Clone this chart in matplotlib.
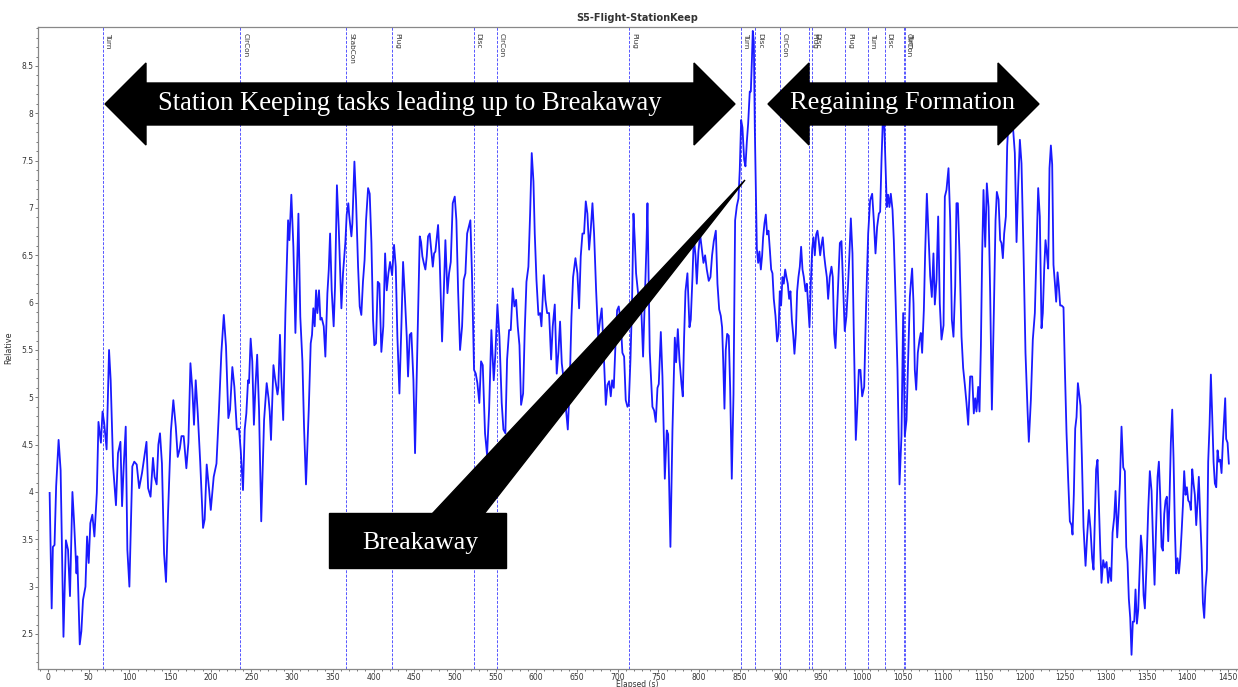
import matplotlib
matplotlib.use("Agg")
import matplotlib.pyplot as plt
from matplotlib.patches import Polygon, Rectangle
from matplotlib.ticker import MultipleLocator, FuncFormatter


# =========================================================
# 1. DATA
# =========================================================

elapsed_s = [
    2, 4.5, 6, 8, 10, 13, 15.5, 19, 22, 24.6, 27, 30, 32, 35, 36, 39, 41, 43, 46, 48,
    50, 52, 54.5, 57, 60, 62, 65, 67, 69, 72, 75, 77, 80, 83.5, 86, 89, 91, 93, 95.5, 97.5,
    100, 103.6, 106, 109, 112, 115.5, 119, 121, 123, 126, 129, 131, 133.5, 135.6, 137.6, 140, 142.6, 145, 147.5,
    151, 154, 157, 159.4, 162, 164, 166.7, 170, 172.5, 175, 177.4, 179.4, 181.5, 184, 187, 190.5, 192.5, 195, 198,
    200, 203.6, 207, 210, 213, 216, 218.7, 221.6, 223.7, 226.5, 229, 232, 234.7,
    236.8, 239.6, 241.7, 243.7, 245.8, 247, 249, 251, 253, 255, 257, 259.3, 262, 265.5, 268.7, 271, 272.4, 274,
    277, 279, 282, 283, 285, 286.8, 289, 291.7, 295, 296.6, 299, 301.5, 304, 307.7, 310, 312.6, 314.6, 317,
    320.4, 322.8, 324.4, 326, 327.7, 329.4, 331, 333, 334.7, 336.3, 338.8, 340.8, 343.3, 345, 346.6, 348.6,
    351, 352.7, 355, 357.2, 360.5, 362.5, 365.4, 367, 369, 370, 372.8, 374, 376.5, 378.5, 381, 383, 385, 387,
    389, 390.8, 393.3, 395.3, 397.4, 399.4, 401, 403, 405.2, 407.2, 409.6, 412, 414.2, 416.2, 418.3, 420.3,
    422.8, 425.2, 427.3, 429.3, 431.8, 434.2, 436.3, 438.3, 440.8, 442.4, 444.5, 446.5, 449, 451, 454, 456.8,
    458.4, 460, 461.7, 463.7, 465.4, 467, 469, 471, 472.8, 474.4, 476,
    479.3, 481.3, 484.2, 486.3, 488.3, 490.8, 492.8, 494.9, 497.3, 499.8, 501.8, 503.9, 506.3, 508.8, 510.8,
    512.9, 515, 517, 519, 521, 523.5, 525.6, 527.6, 530, 532.1, 534.2, 537, 539.5, 542, 544.8, 547.7, 549.8,
    552.2, 554.7, 557.5, 559.6, 562, 564.1, 566.6, 568.6, 571, 573.1, 575.2, 577.2, 579.3, 581.3, 583.8, 585.8,
    587.9, 590.3, 592.4, 594.4, 596.5, 598.1, 600.2, 602.6, 604.7, 606.3, 609.2, 611.2, 613.3, 615.7, 618.2,
    620.2, 622.7, 625.1, 627.2, 629.2, 631.3, 633.7, 636.2, 638.7, 641.1, 643.2, 645.2, 648.1, 650.5, 652.6,
    654.6, 656.7, 658.7, 660.8, 662.8, 664.9, 666.9, 669, 671, 673.5, 676, 678.4, 680.4, 682.5, 685.4, 687.4,
    689.5, 691.5, 693.2, 695.2, 697.2, 699.3, 701.3, 703.8, 705.8, 707.9, 709.9, 712, 713.6, 715.7, 717.7,
    719.4, 721, 722.6, 724.7, 726.7, 729.2, 731.2, 733.3, 735.3, 736.6,
    739.4, 742.7, 744.8, 746.8, 748.9, 750.5, 753, 755, 757.9, 760.3, 762, 764.8, 767.3, 770.2, 771.8, 773.9,
    775.9, 778.4, 780, 781.6, 783.3, 785.7, 788.2, 789.8, 791.9, 793.5, 795.6, 797.2, 799.2, 801.3, 803.3,
    805.4, 807.4, 809.5, 811.9, 814, 816, 818.1, 820.6, 822.6, 824.7, 826.7, 828.3, 829.6, 831.2, 832.8,
    834.5, 836.5, 838.2, 840.2, 842.3, 844.3, 846.4, 848.4, 850, 851.7, 853.3, 855.4, 857, 858.7, 860.3,
    862.3, 863.6, 864.8, 866, 867.3, 868.5, 869.7, 871, 872.6, 874.2, 875.9, 877.5, 878.7, 880.4, 882,
    883.6, 885.3, 886.9, 888.6, 890.2, 891.8, 893.9, 895.9, 897.6, 899.2, 900.8, 902.5, 904.1, 905.8, 907.4,
    909, 910.7, 912.3, 914, 915.6, 917.2, 918.9, 920.5, 922.1, 923.8, 925.4, 927.1, 928.7, 930.8, 932.4,
    934, 935.7, 937.3, 939, 940.6, 942.2, 943.9, 945.5, 947.1, 948.8, 950.4, 952, 953.7, 955.3, 957, 958.6,
    960.6, 962.7, 964.3, 966, 967.6, 969.3,
    973, 975, 977, 979, 981, 983, 984.8, 986.5, 988.5, 990.2, 992.6, 994.7, 996.3, 998.3, 1000.4, 1002.9,
    1005.3, 1007.8, 1010.2, 1012.7, 1014.7, 1016.8, 1018.8, 1020.9, 1022.5, 1024.2, 1025.8, 1027.4, 1029.1,
    1030.7, 1032.3, 1033.9, 1035.6, 1037.7, 1039.3, 1041.4, 1043.8, 1046.3, 1048.7, 1050.8, 1052.8, 1054.9,
    1056.9, 1059, 1060.2, 1061.8, 1063.5, 1065.1, 1066.8, 1068.8, 1070.9, 1072.5, 1074.1, 1076.2, 1077.8,
    1079.9, 1081.9, 1084, 1086, 1088, 1089.7, 1091.8, 1093.8, 1095.8, 1097.9, 1100.4, 1102, 1104, 1106.5,
    1108.6, 1110.6, 1112.6, 1114.7, 1116.3, 1118, 1120, 1122.5, 1124.5, 1126.6, 1128.6, 1130.7, 1133.1,
    1135.6, 1137.6, 1139.3, 1140.9, 1143, 1144.6, 1146.3, 1147.9, 1149.5, 1151.6, 1153.6, 1155.7, 1157.7,
    1159.8, 1162.2, 1164.3, 1165.9, 1168, 1170, 1171.6, 1173.3, 1174.9, 1177, 1178.6, 1180.3, 1181.9, 1184,
    1186, 1188, 1190.1, 1192.1, 1194.2, 1196.2, 1198.7, 1201.1, 1203.6, 1205.2, 1207.7, 1210.1, 1212.6, 1214.6,
    1216.7, 1218.7, 1220.8, 1222.4, 1224.1, 1225.7, 1227.4, 1229, 1230.6, 1232.3, 1233.9, 1235.5, 1237.2,
    1238.8, 1240.5, 1242.1, 1243.7, 1245.4, 1247.8, 1249.5, 1251.5, 1253.6, 1255.6, 1257.7, 1258.9, 1260.5,
    1262.2, 1263.8, 1265.5, 1267.1, 1268.7, 1270.4, 1272.4, 1274.9, 1276.9, 1279, 1281, 1283, 1284.7, 1286.3,
    1287.9, 1289.6, 1291.3, 1292.9, 1294.5, 1296.6, 1298.6, 1300.7, 1302.7, 1304.4, 1306.4, 1308.1, 1310.1,
    1311.8, 1313.8, 1315.4, 1317.1, 1319.1, 1321.2, 1323.2, 1324.9, 1326.5, 1328.1, 1329.8, 1331.4, 1333,
    1334.7, 1336.3, 1338, 1339.6, 1341.2, 1342.9, 1344.5, 1346.2, 1347.8, 1349.8, 1351.9, 1353.9, 1356, 1358,
    1359.7, 1361.3, 1363.4, 1365, 1366.6, 1368.3, 1369.9, 1371.6, 1373.2, 1374.8, 1376.5, 1378.1, 1379.7,
    1381.4, 1383, 1384.7, 1386.3, 1387.9, 1389.6, 1391.2, 1392.9, 1394.5, 1396.1, 1397.8, 1399.4, 1401.1,
    1402.7, 1404.3, 1406, 1407.6, 1409.2, 1410.9, 1412.5, 1414.1, 1415.8, 1417.4, 1419.1, 1420.7, 1422.3,
    1424, 1425.6, 1427.3, 1428.9, 1430.6, 1432.2, 1433.8, 1435.5, 1437.1, 1438.7, 1440.4, 1442, 1443.6,
    1445.3, 1446.5, 1447.7, 1449.4, 1451,
]

relative = [
    3.99, 2.77, 3.42, 3.44, 4.06, 4.55, 4.23, 2.47, 3.49, 3.39, 2.90, 4.00, 3.69, 3.14, 3.32, 2.39, 2.53, 2.86, 3.00, 3.53,
    3.25, 3.67, 3.76, 3.53, 3.99, 4.74, 4.52, 4.85, 4.73, 4.45, 5.50, 5.18, 4.27, 3.86, 4.41, 4.53, 3.85, 4.27, 4.69, 3.39,
    3.00, 4.27, 4.32, 4.29, 4.04, 4.20, 4.41, 4.53, 4.04, 3.95, 4.36, 4.16, 4.08, 4.50, 4.62, 4.30, 3.35, 3.05, 3.78,
    4.64, 4.97, 4.69, 4.37, 4.46, 4.59, 4.59, 4.25, 4.52, 5.36, 5.08, 4.71, 5.18, 4.83, 4.32, 3.62, 3.71, 4.29, 4.02,
    3.81, 4.16, 4.30, 4.85, 5.47, 5.87, 5.54, 4.78, 4.87, 5.32, 5.11, 4.66, 4.67,
    4.44, 4.02, 4.66, 4.83, 5.18, 5.15, 5.62, 5.38, 4.71, 5.13, 5.45, 4.87, 3.69, 4.76, 5.15, 4.99, 4.85, 4.55,
    5.34, 5.20, 5.03, 5.10, 5.66, 5.18, 4.76, 5.89, 6.87, 6.66, 7.14, 6.59, 5.68, 6.94, 5.85, 5.38, 4.69, 4.08,
    4.87, 5.57, 5.66, 5.94, 5.75, 6.13, 5.89, 6.13, 5.82, 5.84, 5.75, 5.43, 6.10, 6.35, 6.73, 6.13,
    5.75, 6.17, 7.24, 6.80, 5.94, 6.31, 6.64, 6.93, 7.05, 6.93, 6.70, 6.84, 7.49, 7.08, 6.38, 5.96, 5.87, 6.22,
    6.45, 6.87, 7.21, 7.15, 6.63, 5.82, 5.55, 5.57, 6.22, 6.20, 5.48, 5.75, 6.52, 6.13, 6.31, 6.43,
    6.29, 6.61, 6.38, 5.64, 5.04, 5.75, 6.43, 6.10, 5.64, 5.22, 5.66, 5.68, 5.18, 4.41, 5.61, 6.70,
    6.64, 6.49, 6.42, 6.35, 6.49, 6.70, 6.73, 6.54, 6.38, 6.52, 6.54,
    6.82, 6.45, 5.59, 6.10, 6.66, 6.10, 6.31, 6.43, 7.05, 7.12, 6.87, 6.13, 5.50, 5.75, 6.24,
    6.31, 6.73, 6.80, 6.87, 6.29, 5.29, 5.25, 5.15, 4.94, 5.38, 5.34, 4.62, 4.39, 4.87, 5.71, 5.18, 5.47,
    5.98, 5.64, 4.94, 4.66, 4.62, 5.40, 5.71, 5.71, 6.15, 5.96, 6.03, 5.75, 5.55, 4.92, 5.04, 5.71,
    6.22, 6.38, 6.94, 7.58, 7.28, 6.73, 6.24, 5.87, 5.89, 5.75, 6.29, 6.03, 5.89, 5.89, 5.40,
    5.75, 5.98, 5.25, 5.48, 5.80, 5.36, 5.18, 4.90, 4.66, 5.15, 5.85, 6.27, 6.47, 6.31, 5.94,
    6.49, 6.73, 6.73, 7.07, 6.94, 6.56, 6.77, 7.05, 6.73, 6.13, 5.64, 5.82, 5.94, 5.54, 4.92, 5.13,
    5.17, 5.01, 5.18, 5.10, 5.54, 5.92, 5.96, 5.78, 5.47, 5.43, 4.97, 4.90, 4.92, 5.40, 6.03,
    6.94, 6.66, 6.31, 6.13, 5.99, 5.89, 5.43, 6.03, 6.59, 7.05,
    5.48, 4.90, 4.86, 4.74, 5.10, 5.14, 5.69, 5.22, 4.14, 4.65, 4.61, 3.42, 4.65, 5.63, 5.37, 5.72,
    5.40, 5.14, 5.01, 5.63, 6.12, 6.31, 5.74, 5.82, 6.27, 6.69, 6.50, 6.20, 6.54, 6.72, 6.57,
    6.42, 6.50, 6.35, 6.23, 6.27, 6.50, 6.65, 6.76, 6.20, 5.93, 5.86, 5.74, 5.40, 4.88, 5.50,
    5.67, 5.65, 5.10, 4.14, 5.03, 6.87, 7.02, 7.10, 7.40, 7.93, 7.85, 7.51, 7.44, 7.70, 7.89,
    8.23, 8.23, 8.53, 8.87, 8.76, 7.85, 7.25, 6.57, 6.42, 6.54, 6.35, 6.50, 6.69, 6.84, 6.93,
    6.72, 6.76, 6.57, 6.35, 6.31, 6.04, 5.86, 5.59, 5.67, 6.12, 5.97, 6.27, 6.20, 6.35, 6.27,
    6.20, 6.04, 6.12, 5.82, 5.67, 5.46, 5.67, 6.12, 6.27, 6.38, 6.59, 6.35, 6.27, 6.12, 6.20,
    5.97, 5.74, 6.20, 6.57, 6.69, 6.50, 6.72, 6.76, 6.65, 6.50, 6.61, 6.69, 6.50, 6.38, 6.27, 6.04,
    6.27, 6.38, 6.27, 5.67, 5.52, 5.86,
    6.63, 6.65, 6.17, 5.70, 5.85, 6.17, 6.52, 6.89, 6.52, 5.64, 4.55, 4.94, 5.29, 5.29, 5.01, 5.11,
    5.99, 6.73, 7.08, 7.15, 6.87, 6.52, 6.80, 6.94, 6.96, 7.51, 7.93, 7.93, 7.44,
    7.01, 7.14, 7.01, 7.15, 6.98, 6.66, 6.06, 5.29, 4.08, 4.59, 5.89, 4.59, 4.76,
    5.40, 6.06, 6.20, 6.36, 5.99, 5.29, 5.08, 5.47, 5.61, 5.68, 5.47, 5.92, 6.52,
    7.15, 6.73, 6.28, 6.06, 6.52, 5.98, 6.24, 6.91, 5.99, 5.61, 5.76, 7.12, 7.19, 7.42,
    6.87, 5.82, 5.64, 6.17, 7.05, 7.05, 6.52, 5.64, 5.31, 5.13, 4.94, 4.71, 5.22,
    5.22, 4.83, 4.99, 4.85, 5.11, 4.85, 5.54, 6.52, 7.19, 6.59, 7.26, 7.01, 6.10,
    4.87, 5.89, 6.87, 7.17, 7.09, 6.66, 6.63, 6.47, 6.73, 6.91, 7.65, 7.93, 8.15, 8.00,
    7.82, 7.58, 6.64, 7.23, 7.72, 7.47, 6.52, 5.47, 4.87, 4.53, 4.97, 5.61, 5.89, 6.52,
    7.21, 6.91, 5.73, 5.89, 6.36, 6.66, 6.52, 6.36, 7.42, 7.66, 7.46, 6.40, 6.21,
    6.01, 6.32, 6.17, 5.97, 5.97, 5.95, 5.30, 4.63, 4.12, 3.69, 3.65, 3.55, 3.97,
    4.67, 4.79, 5.15, 5.03, 4.91, 4.36, 3.63, 3.22, 3.54, 3.81, 3.61, 3.30, 3.18, 3.73,
    4.24, 4.34, 3.85, 3.42, 3.04, 3.28, 3.20, 3.26, 3.04, 3.20, 3.06, 3.57, 3.73,
    4.01, 3.52, 3.77, 4.09, 4.69, 4.26, 4.22, 3.42, 3.26, 2.87, 2.67, 2.28, 2.63,
    2.63, 2.97, 2.61, 2.75, 3.14, 3.54, 3.38, 2.91, 2.77, 3.22, 3.81, 4.22, 4.01, 3.42,
    3.02, 3.54, 4.16, 4.32, 3.97, 3.42, 3.38, 3.77, 3.91, 3.95, 3.48, 3.93, 4.52,
    4.87, 4.36, 3.61, 3.14, 3.30, 3.14, 3.30, 3.57, 3.85, 4.22, 3.97, 4.05, 3.91,
    3.89, 3.81, 4.24, 4.09, 3.97, 3.65, 3.89, 4.16, 3.73, 3.38, 2.83, 2.67, 2.99,
    3.18, 4.32, 4.71, 5.24, 4.79, 4.32, 4.09, 4.05, 4.44, 4.32, 4.34, 4.20, 4.52,
    4.79, 4.99, 4.56, 4.52, 4.30,
]

event_times = [67, 236.5, 366.5, 422.5, 523, 551.5, 714.5, 851.5, 868.5,
               899, 935, 939, 979.5, 1007, 1028, 1051.5, 1053.5]
event_labels = ["Turn", "ClrCon", "StabCon", "Plug", "Disc", "ClrCon", "Plug", "Turn", "Disc",
                "ClrCon", "Plug", "Disc", "Plug", "Turn", "Disc", "ClrCon", "Turn"]


# =========================================================
# 2. FIGURE & AXES
# =========================================================

W, H = 1238, 687
fig = plt.figure(figsize=(W / 100, H / 100), dpi=100)
ax = fig.add_axes([38 / W, 1 - 669 / H, (1237 - 38) / W, (669 - 26.5) / H])

ax.plot(elapsed_s, relative, color="#1a1aff", linewidth=1.3, zorder=3)

# event markers
for t, name in zip(event_times, event_labels):
    ax.axvline(t, color="#5555ff", linewidth=0.7, linestyle=(0, (3, 1.5)), zorder=2)
    ax.annotate(name, xy=(t, 1), xycoords=("data", "axes fraction"),
                xytext=(1.5, -4.5), textcoords="offset points",
                rotation=270, ha="left", va="top", fontsize=5.3, color="#333333")

ax.set_xlim(-12.3, 1461)
ax.set_ylim(2.13, 8.917)

ax.xaxis.set_major_locator(MultipleLocator(50))
ax.xaxis.set_minor_locator(MultipleLocator(10))
ax.yaxis.set_major_locator(MultipleLocator(0.5))
ax.yaxis.set_minor_locator(MultipleLocator(0.1))
ax.yaxis.set_major_formatter(FuncFormatter(lambda v, p: f"{v:g}"))

ax.tick_params(which="both", direction="out", color="#777777", labelsize=5.5,
               labelcolor="#333333", width=0.7)
ax.tick_params(which="major", length=2.3, pad=0.8)
ax.tick_params(which="minor", length=1.4)

for side in ["left", "bottom", "top"]:
    ax.spines[side].set_color("#888888")
    ax.spines[side].set_linewidth(0.9)
ax.spines["right"].set_visible(False)

ax.set_xlabel("Elapsed (s)", fontsize=5.5, color="#333333")
ax.xaxis.set_label_coords(0.5, -(684.5 - 669) / (669 - 26.5))
ax.xaxis.label.set_va("center")
ax.set_ylabel("Relative", fontsize=5.8, color="#333333", labelpad=6)
ax.set_title("S5-Flight-StationKeep", fontsize=7, fontweight="bold", color="#333333", pad=4)


# =========================================================
# 3. CALLOUT SHAPES (figure pixel coordinates)
# =========================================================

def px(x, y):
    return (x / W, 1 - y / H)


def double_arrow(x0, x1, head=41, top=63, mid=104, bot=145, shaft=21):
    pts = [(x0, mid), (x0 + head, top), (x0 + head, mid - shaft), (x1 - head, mid - shaft),
           (x1 - head, top), (x1, mid), (x1 - head, bot), (x1 - head, mid + shaft),
           (x0 + head, mid + shaft), (x0 + head, bot)]
    return Polygon([px(*p) for p in pts], closed=True, transform=fig.transFigure,
                   facecolor="black", edgecolor="black", zorder=5)


fig.add_artist(double_arrow(105, 735))
fig.add_artist(double_arrow(768, 1039))

fig.text(*px(410, 104), "Station Keeping tasks leading up to Breakaway", color="white",
         fontsize=19.2, family="Liberation Serif", ha="center", va="center", zorder=6)
fig.text(*px(903, 103), "Regaining Formation", color="white",
         fontsize=19, family="Liberation Serif", ha="center", va="center", zorder=6)

# breakaway box with pointer
wedge = Polygon([px(432, 514), px(484, 514), px(745, 180)], closed=True,
                transform=fig.transFigure, facecolor="black", edgecolor="black", zorder=5)
fig.add_artist(wedge)
box = Rectangle(px(329, 568), 177 / W, 55 / H, transform=fig.transFigure,
                facecolor="black", edgecolor="black", zorder=5)
fig.add_artist(box)
fig.text(*px(420, 543), "Breakaway", color="white", fontsize=18.5,
         family="Liberation Serif", ha="center", va="center", zorder=6)

fig.savefig("out.png", dpi=100)
plt.close(fig)
